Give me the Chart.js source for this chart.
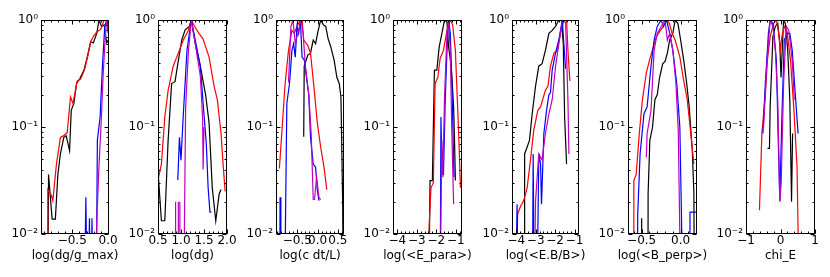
<!DOCTYPE html>
<html><head><meta charset="utf-8">
<script src="https://cdn.jsdelivr.net/npm/chart.js@4/dist/chart.umd.min.js"></script>
<style>html,body{margin:0;padding:0;background:#fff;width:830px;height:277px;overflow:hidden;position:relative}canvas{position:absolute;top:0}</style>
</head><body>
<script>
// ---------- data ----------
const xTitles = ['log(dg/g_max)', 'log(dg)', 'log(c dt/L)', 'log(<E_para>)', 'log(<E.B/B>)', 'log(<B_perp>)', 'chi_E'];
const seriesNames = ['black', 'red', 'blue', 'magenta'];
const yTickValues = [0.01, 0.1, 1];
const yTickLabels = ['10\u207B\u00B2', '10\u207B\u00B9', '10\u2070'];

const xTicks1 = [-0.5, 0.0];            const xTickLabels1 = ['\u22120.5', '0.0'];
const xTicks2 = [0.5, 1.0, 1.5, 2.0];   const xTickLabels2 = ['0.5', '1.0', '1.5', '2.0'];
const xTicks3 = [-0.5, 0.0, 0.5];       const xTickLabels3 = ['\u22120.5', '0.0', '0.5'];
const xTicks4 = [-4, -3, -2, -1];       const xTickLabels4 = ['\u22124', '\u22123', '\u22122', '\u22121'];
const xTicks5 = [-4, -3, -2, -1];       const xTickLabels5 = ['\u22124', '\u22123', '\u22122', '\u22121'];
const xTicks6 = [-0.5, 0.0];            const xTickLabels6 = ['\u22120.5', '0.0'];
const xTicks7 = [-1, 0, 1];             const xTickLabels7 = ['\u22121', '0', '1'];

// panel 1: log(dg/g_max)
const p1Black = [[-0.935,0.024],[-0.92,0.001],[-0.845,0.001],[-0.83,0.036],[-0.78,0.0138],[-0.735,0.0138],[-0.70,0.036],[-0.665,0.056],[-0.617,0.08],[-0.584,0.083],[-0.537,0.06],[-0.514,0.143],[-0.477,0.166],[-0.44,0.255],[-0.393,0.284],[-0.336,0.34],[-0.29,0.453],[-0.243,0.627],[-0.206,0.61],[-0.159,0.75],[-0.126,1.0],[-0.093,0.87],[-0.056,0.9],[-0.019,0.61],[0.0,0.65]];
const p1Red = [[-0.93,0.016],[-0.91,0.001],[-0.85,0.001],[-0.84,0.026],[-0.79,0.023],[-0.77,0.0205],[-0.72,0.045],[-0.664,0.08],[-0.617,0.083],[-0.57,0.089],[-0.524,0.19],[-0.49,0.166],[-0.43,0.27],[-0.383,0.28],[-0.33,0.34],[-0.28,0.47],[-0.243,0.627],[-0.196,0.72],[-0.15,0.78],[-0.103,0.82],[-0.056,1.0],[-0.02,0.98],[0.0,0.75]];
const p1Blue = [[-0.34,0.001],[-0.31,0.022],[-0.285,0.001],[-0.26,0.014],[-0.24,0.001],[-0.225,0.014],[-0.2,0.001],[-0.17,0.001],[-0.15,0.075],[-0.112,0.124],[-0.08,0.366],[-0.047,0.87],[-0.019,1.0],[0.0,0.9]];
const p1Magenta = [[-0.175,0.001],[-0.16,0.012],[-0.13,0.04],[-0.1,0.1],[-0.07,0.3],[-0.04,0.7],[-0.019,1.0],[0.0,0.95]];

// panel 2: log(dg)
const p2Black = [[0.5,0.039],[0.574,0.0133],[0.648,0.0133],[0.72,0.075],[0.796,0.255],[0.87,0.265],[0.943,0.42],[1.017,0.65],[1.09,0.81],[1.18,0.87],[1.224,1.0],[1.31,0.6],[1.42,0.37],[1.535,0.2],[1.61,0.11],[1.68,0.027],[1.756,0.0133],[1.83,0.0237],[1.87,0.026]];
const p2Red = [[0.5,0.032],[0.574,0.045],[0.648,0.124],[0.72,0.22],[0.83,0.37],[0.94,0.49],[1.05,0.65],[1.15,0.78],[1.224,1.0],[1.31,0.85],[1.39,0.75],[1.476,0.67],[1.61,0.45],[1.72,0.24],[1.79,0.18],[1.87,0.087],[1.92,0.042],[1.96,0.025]];
const p2Blue = [[0.93,0.032],[0.966,0.08],[1.0,0.049],[1.05,0.13],[1.13,0.52],[1.224,1.0],[1.31,0.65],[1.42,0.37],[1.5,0.13],[1.55,0.07],[1.59,0.027],[1.63,0.016],[1.66,0.016]];
const p2Magenta = [[0.875,0.001],[0.88,0.02],[0.885,0.001],[0.935,0.001],[0.94,0.02],[0.945,0.001],[0.97,0.001],[0.975,0.02],[0.98,0.001],[1.05,0.001],[1.1,0.15],[1.16,0.5],[1.224,1.0],[1.31,0.6],[1.42,0.3],[1.47,0.12],[1.48,0.04],[1.5,0.1]];

// panel 3: log(c dt/L)
const p3Black = [[-0.342,0.081],[-0.33,0.37],[-0.242,0.47],[-0.175,0.49],[-0.108,0.65],[-0.05,0.6],[0.008,0.78],[0.075,1.0],[0.142,0.9],[0.2,0.87],[0.258,0.67],[0.325,0.56],[0.408,0.42],[0.475,0.29],[0.533,0.255],[0.575,0.19],[0.617,0.02],[0.64,0.001]];
const p3Red = [[-0.942,0.041],[-0.883,0.087],[-0.8,0.255],[-0.717,0.52],[-0.633,0.8],[-0.575,0.75],[-0.508,0.87],[-0.425,1.0],[-0.383,1.0],[-0.342,0.65],[-0.242,0.58],[-0.175,0.49],[-0.092,0.24],[-0.008,0.11],[0.075,0.065],[0.158,0.042],[0.225,0.026]];
const p3Blue = [[-1.015,0.0115],[-1.0,0.001],[-0.935,0.001],[-0.925,0.022],[-0.905,0.001],[-0.825,0.001],[-0.758,0.166],[-0.692,0.255],[-0.633,0.52],[-0.592,0.6],[-0.55,0.45],[-0.508,0.87],[-0.467,0.75],[-0.425,1.0],[-0.383,0.45],[-0.325,0.42],[-0.275,0.29],[-0.217,0.2],[-0.175,0.08],[-0.108,0.045],[-0.05,0.042],[-0.008,0.026],[0.033,0.0205]];
const p3Magenta = [[-0.717,0.26],[-0.658,0.87],[-0.608,1.0],[-0.55,0.6],[-0.508,0.7],[-0.442,0.87],[-0.408,1.0],[-0.358,0.75],[-0.3,0.37],[-0.217,0.2],[-0.158,0.086],[-0.108,0.021],[-0.075,0.021],[-0.025,0.034],[0.033,0.022],[0.075,0.021]];

// panel 4: log(<E_para>)
const p4Black = [[-2.406,0.001],[-2.32,0.0316],[-2.2,0.0316],[-2.095,0.34],[-1.97,0.34],[-1.85,0.56],[-1.71,0.75],[-1.58,1.0],[-1.45,0.96],[-1.37,0.56],[-1.23,0.37],[-1.11,0.154],[-1.06,0.07],[-1.02,0.0316]];
const p4Red = [[-2.4,0.001],[-2.37,0.0115],[-2.27,0.027],[-2.15,0.03],[-2.06,0.255],[-1.92,0.29],[-1.8,0.44],[-1.63,0.52],[-1.45,0.8],[-1.28,1.0],[-1.16,0.9],[-1.02,0.52],[-0.85,0.087],[-0.76,0.027]];
const p4Blue = [[-1.81,0.001],[-1.76,0.124],[-1.71,0.036],[-1.63,0.036],[-1.54,0.18],[-1.45,0.52],[-1.37,1.0],[-1.28,0.75],[-1.2,0.255],[-1.09,0.034]];
const p4Magenta = [[-1.84,0.001],[-1.71,0.075],[-1.66,0.034],[-1.58,0.18],[-1.45,0.75],[-1.37,1.0],[-1.28,0.52],[-1.2,0.087],[-1.11,0.019]];

// panel 5: log(<E.B/B>)
const p5Black = [[-3.585,0.001],[-3.57,0.056],[-3.44,0.065],[-3.32,0.075],[-3.18,0.133],[-3.01,0.24],[-2.84,0.37],[-2.67,0.39],[-2.5,0.52],[-2.32,0.75],[-2.15,0.8],[-1.98,0.87],[-1.81,1.0],[-1.67,1.0],[-1.58,0.6],[-1.51,0.124],[-1.41,0.045]];
const p5Red = [[-4.14,0.001],[-3.93,0.0154],[-3.79,0.018],[-3.62,0.0205],[-3.44,0.027],[-3.27,0.049],[-3.1,0.093],[-2.89,0.143],[-2.75,0.154],[-2.5,0.22],[-2.37,0.24],[-2.24,0.37],[-2.06,0.49],[-1.89,0.52],[-1.72,0.75],[-1.55,1.0],[-1.41,1.0],[-1.34,0.52],[-1.24,0.27]];
const p5Blue = [[-4.05,0.001],[-3.96,0.019],[-3.88,0.001],[-3.18,0.001],[-3.13,0.056],[-3.06,0.001],[-2.96,0.001],[-2.84,0.056],[-2.75,0.045],[-2.7,0.019],[-2.58,0.087],[-2.44,0.143],[-2.32,0.2],[-2.24,0.21],[-2.15,0.34],[-1.98,0.49],[-1.81,0.65],[-1.63,1.0],[-1.55,0.6],[-1.46,0.35]];
const p5Magenta = [[-4.22,0.019],[-4.14,0.001],[-3.1,0.001],[-3.01,0.02],[-2.84,0.056],[-2.67,0.049],[-2.5,0.087],[-2.32,0.133],[-2.15,0.18],[-1.98,0.366],[-1.81,0.6],[-1.63,1.0],[-1.46,0.95],[-1.34,0.18],[-1.29,0.056]];

// panel 6: log(<B_perp>)
const p6Black = [[-0.505,0.001],[-0.5,0.014],[-0.495,0.001],[-0.42,0.001],[-0.417,0.024],[-0.395,0.075],[-0.36,0.1],[-0.33,0.18],[-0.3,0.2],[-0.27,0.29],[-0.23,0.39],[-0.2,0.41],[-0.17,0.49],[-0.14,0.65],[-0.1,0.75],[-0.07,1.0],[-0.035,0.93],[0.0,0.65],[0.04,0.42],[0.078,0.255],[0.11,0.154],[0.15,0.06],[0.17,0.024],[0.18,0.001]];
const p6Red = [[-0.61,0.001],[-0.6,0.0316],[-0.57,0.036],[-0.53,0.087],[-0.49,0.18],[-0.44,0.32],[-0.4,0.42],[-0.35,0.56],[-0.31,0.7],[-0.26,0.8],[-0.22,0.87],[-0.18,1.0],[-0.145,0.93],[-0.11,0.75],[-0.07,0.65],[-0.01,0.45],[0.04,0.27],[0.085,0.18],[0.13,0.087],[0.17,0.045]];
const p6Blue = [[-0.56,0.001],[-0.55,0.0154],[-0.52,0.056],[-0.47,0.133],[-0.43,0.154],[-0.38,0.37],[-0.34,0.65],[-0.3,0.87],[-0.25,1.0],[-0.22,0.87],[-0.18,1.0],[-0.14,0.75],[-0.1,0.52],[-0.05,0.255],[-0.01,0.1],[0.04,0.001],[0.11,0.001],[0.12,0.016],[0.2,0.016]];
const p6Magenta = [[-0.44,0.052],[-0.43,0.087],[-0.38,0.143],[-0.34,0.52],[-0.3,0.75],[-0.25,0.87],[-0.2,1.0],[-0.17,0.65],[-0.14,0.75],[-0.1,0.52],[-0.06,0.255],[-0.03,0.093],[0.01,0.001]];

// panel 7: chi_E
const p7Black = [[-0.376,0.063],[-0.32,0.063],[-0.3,0.154],[-0.27,0.27],[-0.22,0.7],[-0.15,0.87],[-0.08,0.93],[-0.02,0.6],[0.015,0.29],[0.05,0.52],[0.09,1.0],[0.14,0.93],[0.21,0.52],[0.27,0.18],[0.32,0.02],[0.35,0.087]];
const p7Red = [[-0.61,0.0167],[-0.54,0.087],[-0.44,0.2],[-0.38,0.42],[-0.3,0.7],[-0.2,0.93],[-0.12,1.0],[-0.05,0.75],[-0.005,0.52],[0.04,0.7],[0.11,0.87],[0.19,0.78],[0.29,0.42],[0.39,0.143],[0.48,0.042],[0.56,0.001]];
const p7Blue = [[-0.51,0.087],[-0.44,0.255],[-0.35,0.75],[-0.3,1.0],[-0.22,0.93],[-0.18,0.7],[-0.12,0.42],[-0.07,0.087],[-0.02,0.0205],[0.04,0.124],[0.11,0.65],[0.19,0.75],[0.27,0.75],[0.34,0.52],[0.43,0.2],[0.51,0.087]];
const p7Magenta = [[-0.49,0.1],[-0.4,0.37],[-0.3,1.0],[-0.22,0.87],[-0.15,0.52],[-0.08,0.18],[-0.02,0.02],[0.02,0.03],[0.09,0.255],[0.17,0.87],[0.24,0.8],[0.34,0.42],[0.4,0.18]];

// ---------- layout / style ----------
const colors = {black:'#000000', red:'#ff0000', blue:'#0000ff', magenta:'#bf00bf'};
const panels = [
  {left:41,  right:108, xmin:-0.935, xmax:0.012, minor:0.1, ticks:xTicks1, labels:xTickLabels1, series:[p1Black,p1Red,p1Blue,p1Magenta]},
  {left:158, right:226, xmin:0.5,    xmax:2.0,   minor:0.1, ticks:xTicks2, labels:xTickLabels2, series:[p2Black,p2Red,p2Blue,p2Magenta]},
  {left:276, right:343, xmin:-1.025, xmax:0.65,  minor:0.1, ticks:xTicks3, labels:xTickLabels3, series:[p3Black,p3Red,p3Blue,p3Magenta]},
  {left:393, right:461, xmin:-4.22,  xmax:-0.68, minor:0.2, ticks:xTicks4, labels:xTickLabels4, series:[p4Black,p4Red,p4Blue,p4Magenta]},
  {left:512, right:578, xmin:-4.22,  xmax:-0.77, minor:0.2, ticks:xTicks5, labels:xTickLabels5, series:[p5Black,p5Red,p5Blue,p5Magenta]},
  {left:628, right:696, xmin:-0.675, xmax:0.21,  minor:0.1, ticks:xTicks6, labels:xTickLabels6, series:[p6Black,p6Red,p6Blue,p6Magenta]},
  {left:746, right:814, xmin:-1,     xmax:1,     minor:0.2, ticks:xTicks7, labels:xTickLabels7, series:[p7Black,p7Red,p7Blue,p7Magenta]}
];
const Y_AXIS_W = 50, PAD_R = 22, TOP = 20, BOTTOM = 234, H = 277, TITLE_Y = 256;

Chart.defaults.font.family = 'DejaVu Sans';
Chart.defaults.font.size = 12;
Chart.defaults.color = '#000';

const framePlugin = {
  id: 'frame',
  afterDatasetsDraw(chart, args, o) {
    const {ctx, chartArea: a, scales: {x, y}} = chart;
    ctx.save();
    ctx.strokeStyle = '#000';
    ctx.lineWidth = 1;
    const L = Math.round(a.left) + 0.5, R = Math.round(a.right) - 0.5;
    const T = Math.round(a.top) + 0.5, B = Math.round(a.bottom) - 0.5;
    ctx.beginPath();
    const vt = (px, len) => { px = Math.round(px) + 0.5; ctx.moveTo(px, B); ctx.lineTo(px, B - len); ctx.moveTo(px, T); ctx.lineTo(px, T + len); };
    const ht = (py, len) => { py = Math.round(py) + 0.5; ctx.moveTo(L, py); ctx.lineTo(L + len, py); ctx.moveTo(R, py); ctx.lineTo(R - len, py); };
    o.major.forEach(v => vt(x.getPixelForValue(v), 4));
    for (let i = Math.ceil(x.min / o.minor - 1e-6); i * o.minor <= x.max + 1e-6; i++) vt(x.getPixelForValue(i * o.minor), 2);
    yTickValues.forEach(v => ht(y.getPixelForValue(v), 4));
    [0.01, 0.1].forEach(d => { for (let k = 2; k <= 9; k++) ht(y.getPixelForValue(k * d), 2); });
    ctx.stroke();
    ctx.strokeRect(L, T, R - L, B - T);
    // axis title (drawn without width compression)
    ctx.fillStyle = '#000';
    ctx.font = '12px "DejaVu Sans"';
    ctx.textAlign = 'center';
    ctx.textBaseline = 'middle';
    ctx.fillText(o.title, (a.left + a.right) / 2, TITLE_Y);
    ctx.restore();
  }
};

panels.forEach((p, i) => {
  const w = (p.right - p.left) + 1;
  const cv = document.createElement('canvas');
  cv.width = Y_AXIS_W + w + PAD_R;
  cv.height = H;
  cv.style.left = (p.left - Y_AXIS_W) + 'px';
  document.body.appendChild(cv);
  new Chart(cv, {
    type: 'line',
    data: {
      datasets: p.series.map((s, k) => ({
        label: seriesNames[k],
        data: s.map(([x, y]) => ({x, y})),
        borderColor: colors[seriesNames[k]],
        borderWidth: 1.2,
        pointRadius: 0,
        tension: 0,
        fill: false,
        order: 4 - k
      }))
    },
    options: {
      responsive: false,
      animation: false,
      devicePixelRatio: 1,
      layout: {padding: {top: TOP, right: PAD_R, left: 0, bottom: 0}},
      plugins: {legend: {display: false}, tooltip: {enabled: false}, frame: {major: p.ticks, minor: p.minor, title: xTitles[i]}},
      scales: {
        x: {
          type: 'linear', min: p.xmin, max: p.xmax,
          grid: {display: false, drawTicks: false}, border: {display: false},
          afterBuildTicks: s => { s.ticks = p.ticks.map(v => ({value: v})); },
          afterFit: s => { s.height = H - BOTTOM; },
          ticks: {autoSkip: false, maxRotation: 0, padding: 0, callback: (v, idx) => p.labels[idx]},
          title: {display: false}
        },
        y: {
          type: 'logarithmic', min: 0.01, max: 1,
          grid: {display: false, drawTicks: false}, border: {display: false},
          afterBuildTicks: s => { s.ticks = yTickValues.map(v => ({value: v})); },
          afterFit: s => { s.width = Y_AXIS_W; },
          ticks: {autoSkip: false, padding: 3, callback: (v, idx) => yTickLabels[idx]}
        }
      }
    },
    plugins: [framePlugin]
  });
});
</script>
</body></html>
